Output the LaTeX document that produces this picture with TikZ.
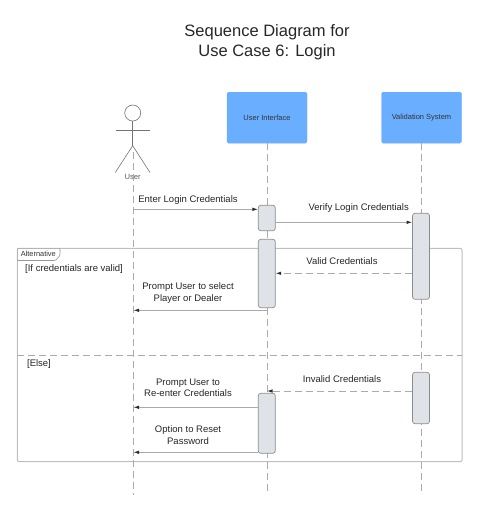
\documentclass[tikz,border=0pt]{standalone}
\usepackage{fontspec}
\setmainfont{Liberation Sans}
\usetikzlibrary{arrows.meta}
\definecolor{headblue}{HTML}{6AAEFF}
\definecolor{actfill}{HTML}{DFE3E8}
\definecolor{linegray}{HTML}{ABABAB}
\definecolor{tipdark}{HTML}{282C33}
\tikzset{
  header/.style={draw=headblue,fill=headblue,rounded corners=1.5pt,minimum width=80pt,minimum height=51pt,inner sep=0pt,font=\fontsize{7.5}{9}\selectfont,text=black!80},
  activation/.style={draw=black!45,fill=actfill,line width=.7pt,rounded corners=2.5pt,minimum width=17pt,inner sep=0pt},
  lifeline/.style={draw=linegray,line width=.7pt,dash pattern=on 7pt off 4pt},
  msg/.style={draw=linegray,line width=.8pt,-{Latex[length=5.5pt,width=3.5pt,color=tipdark]}},
  reply/.style={msg,dash pattern=on 7pt off 4pt},
  lbl/.style={font=\fontsize{9.5}{11.3}\selectfont,text=black!85,align=center,inner sep=0pt},
  actorline/.style={draw=black!55,line width=.6pt}
}
\begin{document}
\begin{tikzpicture}[x=1pt,y=-1pt]
\useasboundingbox (0,0) rectangle (479,512);
\node[font=\fontsize{16.5}{20.5}\selectfont,align=center,text=black!85,inner sep=0pt] (title) at (267,42) {Sequence Diagram for\\Use Case 6: Login};
% frame
\draw[draw=black!25,line width=1pt,rounded corners=2pt] (17.3,248.3) rectangle (462,461.7);
\coordinate (divL) at (17.3,355.7);
\coordinate (divR) at (462,355.7);
\draw[lifeline] (divL) -- (divR);
\draw[draw=black!40,line width=.6pt,fill=white,rounded corners=1pt] (17.3,260.5) -- (17.3,248.3) -- (60,248.3) -- (60,255.5) -- (55.5,260.5) -- cycle;
\node[font=\fontsize{7.4}{9}\selectfont,text=black!80,inner sep=0pt] (tag) at (38.3,253.8) {Alternative};
\node[lbl,anchor=west] (ifvalid) at (25,269.3) {[If credentials are valid]};
\node[lbl] (elsecase) at (39,364) {[Else]};
% actor
\draw[actorline] (132.7,113) circle (8);
\draw[actorline] (132.7,121) -- (132.7,145.7);
\draw[actorline] (115.5,130.3) -- (150,130.3);
\draw[actorline] (115.3,172.5) -- (132.7,145.7) -- (150,172.5);
\node[font=\fontsize{7.6}{9}\selectfont,text=black!65,inner sep=0pt] (user) at (132.7,176.5) {User};
% headers
\node[header] (ui) at (267,117.7) {User Interface};
\node[header] (vs) at (421.5,117.7) {Validation System};
% lifelines
\coordinate (userTop) at (133.5,152);
\coordinate (userEnd) at (133.5,495);
\coordinate (uiEnd) at (267,491);
\coordinate (vsEnd) at (421.5,495);
\draw[lifeline] (userTop) -- (userEnd);
\draw[lifeline] (ui.south) -- (uiEnd);
\draw[lifeline] (vs.south) -- (vsEnd);
% activations
\node[activation,minimum height=25.4pt] (uiA) at (266.8,218) {};
\node[activation,minimum height=68.4pt] (uiB) at (266.8,273.5) {};
\node[activation,minimum height=60pt] (uiC) at (266.8,423.3) {};
\node[activation,minimum height=86pt] (vsA) at (421,256.3) {};
\node[activation,minimum height=51.4pt] (vsB) at (421,398) {};
% messages
\coordinate (u1) at (133.5,209.3);
\coordinate (u2) at (133.5,310.3);
\coordinate (u3) at (133.5,407.3);
\coordinate (u4) at (133.5,452.3);
\coordinate (uiB0) at (267,310.3);
\coordinate (uiLine) at (267,391);
\draw[msg] (u1) -- (u1 -| uiA.west);
\draw[msg] (uiA.east |- 0,222.3) -- (vsA.west |- 0,222.3);
\draw[reply] (vsA.west |- 0,273.3) -- (uiB.east |- 0,273.3);
\draw[msg] (uiB0) -- (u2);
\draw[reply] (vsB.west |- uiLine) -- (uiLine);
\draw[msg] (uiC.west |- u3) -- (u3);
\draw[msg] (uiC.west |- u4) -- (u4);
% message labels
\node[lbl] (enterlbl) at (188,199.7) {Enter Login Credentials};
\node[lbl] (verifylbl) at (358.7,208.3) {Verify Login Credentials};
\node[lbl] (validlbl) at (342,261) {Valid Credentials};
\node[lbl] (promptlbl) at (188,293) {Prompt User to select\\Player or Dealer};
\node[lbl] (invalidlbl) at (342,379.3) {Invalid Credentials};
\node[lbl] (reenterlbl) at (188,387.7) {Prompt User to\\Re-enter Credentials};
\node[lbl] (resetlbl) at (188,435) {Option to Reset\\Password};
\end{tikzpicture}
\end{document}
